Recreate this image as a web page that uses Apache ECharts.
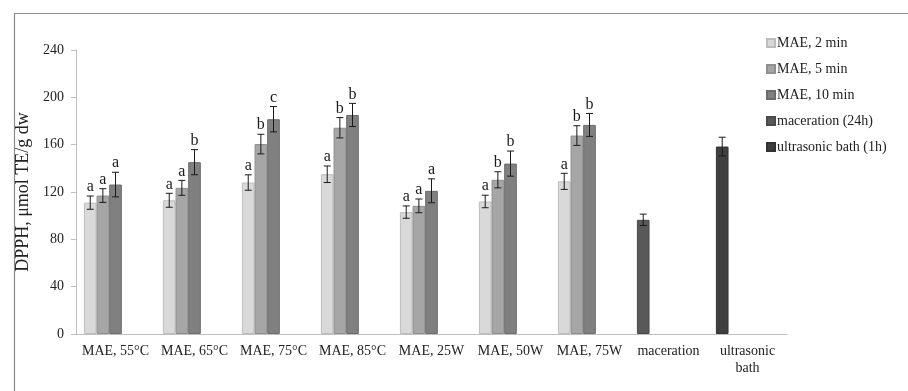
<!DOCTYPE html>
<html>
<head>
<meta charset="utf-8">
<script src="https://cdn.jsdelivr.net/npm/echarts@6/dist/echarts.min.js"></script>
<style>html,body{margin:0;padding:0;background:#fff}#chart{width:908px;height:391px}</style>
</head>
<body>
<div id="chart"></div>
<script>
const categories = ['MAE, 55°C','MAE, 65°C','MAE, 75°C','MAE, 85°C','MAE, 25W','MAE, 50W','MAE, 75W','maceration','ultrasonic\nbath'];
const seriesNames = ['MAE, 2 min','MAE, 5 min','MAE, 10 min','maceration (24h)','ultrasonic bath (1h)'];
const mae2 = [111, 113, 128, 135, 103, 112, 129];
const mae2Err = [5.6, 5.9, 6.5, 7.0, 5.2, 5.3, 6.8];
const mae5 = [117, 123.5, 160.5, 174.3, 108.3, 130.3, 167.7];
const mae5Err = [5.8, 6.3, 8.3, 8.6, 5.8, 6.8, 8.3];
const mae10 = [126.3, 145.2, 181.5, 185.1, 121, 144, 176.7];
const mae10Err = [10.4, 10.6, 10.7, 9.8, 10.1, 10.6, 9.7];
const letters2 = ['a','a','a','a','a','a','a'];
const letters5 = ['a','a','b','b','a','b','b'];
const letters10 = ['a','b','c','b','a','b','b'];
const maceration = 96.5, macerationErr = 4.8;
const ultrasonic = 158.4, ultrasonicErr = 7.9;
const yTicks = [0, 40, 80, 120, 160, 200, 240];

const colors = ['#d9d9d9','#a6a6a6','#808080','#595959','#3f3f3f'];
const borders = ['#bdbdbd','#8f8f8f','#6b6b6b','#4a4a4a','#333333'];
const FONT = 'Liberation Serif';
const NSLOT = 5, CATGAP = 0.2;

// first slot holds MAE 2 min plus the single-value treatments (as in the source layout)
const slot0 = mae2.map(v => v).concat([
  {value: maceration, itemStyle: {color: colors[3], borderColor: borders[3]}},
  {value: ultrasonic, itemStyle: {color: colors[4], borderColor: borders[4]}}
]);

const errData = [];
mae2.forEach((v,i) => errData.push([i, v, mae2Err[i], 0, letters2[i]]));
mae5.forEach((v,i) => errData.push([i, v, mae5Err[i], 1, letters5[i]]));
mae10.forEach((v,i) => errData.push([i, v, mae10Err[i], 2, letters10[i]]));
errData.push([7, maceration, macerationErr, 0, '']);
errData.push([8, ultrasonic, ultrasonicErr, 0, '']);

function barSeries(idx, data) {
  return {
    name: seriesNames[idx], type: 'bar', data: data,
    itemStyle: {color: colors[idx], borderColor: borders[idx], borderWidth: 1},
    barGap: '0%', barCategoryGap: (CATGAP*100)+'%', animation: false
  };
}

const chart = echarts.init(document.getElementById('chart'));
chart.setOption({
  animation: false,
  backgroundColor: '#fff',
  textStyle: {fontFamily: FONT},
  graphic: [{type: 'rect', shape: {x: 14.5, y: 13.5, width: 1000, height: 1000},
    style: {fill: 'none', stroke: '#8c8c8c', lineWidth: 1.2}, silent: true}],
  grid: {left: 76, right: 121, top: 50, bottom: 57, containLabel: false},
  legend: {
    orient: 'vertical', left: 761, top: 31, itemWidth: 8, itemHeight: 8, itemGap: 12,
    icon: 'rect', data: seriesNames,
    textStyle: {fontFamily: FONT, fontSize: 14, color: '#222', padding: [0,0,0,-3]}
  },
  xAxis: {
    type: 'category', data: categories,
    axisLine: {lineStyle: {color: '#bfbfbf', width: 1}},
    axisTick: {show: false},
    axisLabel: {fontFamily: FONT, fontSize: 14, color: '#222', margin: 9, interval: 0, lineHeight: 17}
  },
  yAxis: {
    type: 'value', min: yTicks[0], max: yTicks[yTicks.length-1], interval: 40,
    name: 'DPPH, μmol TE/g dw', nameLocation: 'middle', nameGap: 40,
    nameTextStyle: {fontFamily: FONT, fontSize: 18, color: '#222'},
    axisLine: {show: true, lineStyle: {color: '#bfbfbf'}},
    axisTick: {show: true, length: 5, lineStyle: {color: '#bfbfbf'}},
    splitLine: {show: false},
    axisLabel: {fontFamily: FONT, fontSize: 14, color: '#222', margin: 12}
  },
  series: [
    barSeries(0, slot0),
    barSeries(1, mae5),
    barSeries(2, mae10),
    barSeries(3, categories.map(() => '-')),
    barSeries(4, categories.map(() => '-')),
    {
      type: 'custom', data: errData, z: 10, silent: true,
      renderItem: function (params, api) {
        const cat = api.value(0), v = api.value(1), e = api.value(2), slot = api.value(3);
        const letter = errData[params.dataIndex][4];
        const band = api.size([1, 0])[0];
        const bw = band * (1 - CATGAP) / NSLOT;
        const c = api.coord([cat, v]);
        const x = c[0] - NSLOT * bw / 2 + (slot + 0.5) * bw;
        const hi = api.coord([cat, v + e])[1];
        const lo = api.coord([cat, v - e])[1];
        const cap = 3.5;
        const st = {stroke: '#1a1a1a', lineWidth: 1};
        const children = [
          {type: 'line', shape: {x1: x, y1: hi, x2: x, y2: lo}, style: st},
          {type: 'line', shape: {x1: x - cap, y1: hi, x2: x + cap, y2: hi}, style: st},
          {type: 'line', shape: {x1: x - cap, y1: lo, x2: x + cap, y2: lo}, style: st}
        ];
        if (letter) {
          children.push({type: 'text', style: {text: letter, x: x, y: hi - 1, align: 'center',
            verticalAlign: 'bottom', font: '16px "Liberation Serif"', fill: '#1a1a1a'}});
        }
        return {type: 'group', children: children};
      }
    }
  ]
});
</script>
</body>
</html>
